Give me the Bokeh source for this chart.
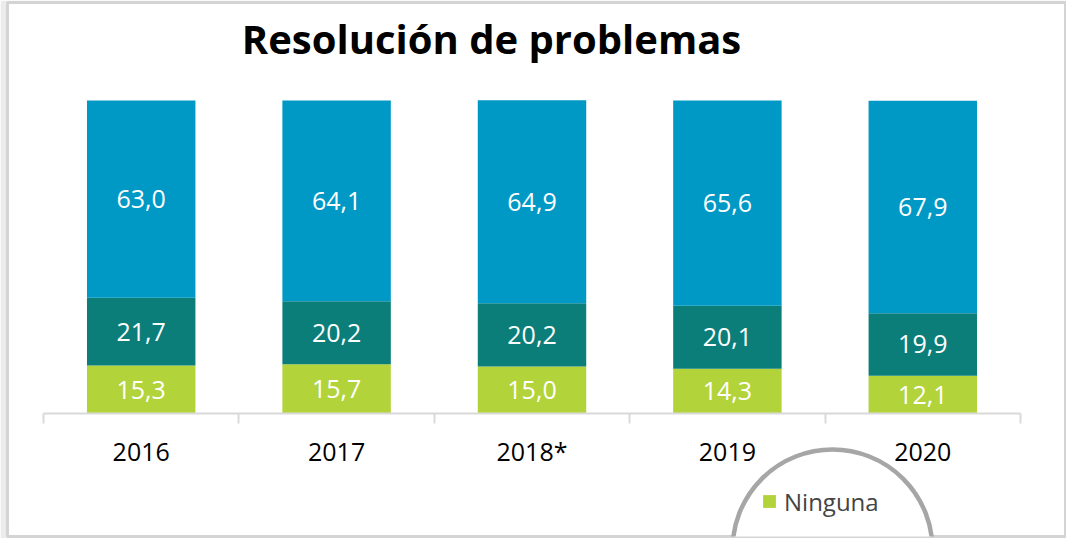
from bokeh.plotting import figure
from bokeh.models import (ColumnDataSource, LinearAxis, FixedTicker, Range1d, Legend,
                          LegendItem, Label, CustomJSTickFormatter)
from bokeh.embed import file_html
from bokeh.resources import INLINE
from bokeh.core.properties import value

# ---- data ----
years = ["2016", "2017", "2018*", "2019", "2020"]
ninguna = [15.3, 15.7, 15.0, 14.3, 12.1]
basica = [21.7, 20.2, 20.2, 20.1, 19.9]
avanzada = [63.0, 64.1, 64.9, 65.6, 67.9]
series_names = ["Ninguna", "Básica"]
title_text = "Resolución de problemas"

GREEN = "#B3D33B"
TEAL = "#0C7E7A"
BLUE = "#0099C5"
FONT = "Open Sans"

# ---- geometry (page pixels) ----
W, H = 1066, 538
FL, FT, FR, FB = 7, 2, 1, 2          # frame borders
FW, FH = W - FL - FR, H - FT - FB
PX_X = 195.4      # px per category
PX_Y = 3.13       # px per percentage point
AXIS_LEFT = 43    # page x of first category boundary
AXIS_Y = 413      # page y of the zero line

x_start = -0.5 - (AXIS_LEFT - FL) / PX_X
x_end = x_start + FW / PX_X
y_end = (AXIS_Y - FT) / PX_Y
y_start = y_end - FH / PX_Y


def dx(px):
    return x_start + (px - FL) / PX_X


def dy(py):
    return y_end - (py - FT) / PX_Y


p = figure(width=W, height=H, x_range=Range1d(x_start, x_end), y_range=Range1d(y_start, y_end),
           x_axis_type=None, y_axis_type=None, toolbar_location=None, output_backend="svg",
           title=None)
p.min_border_left, p.min_border_top, p.min_border_right, p.min_border_bottom = FL, FT, FR, FB
p.outline_line_color = "#d4d4d4"
p.outline_line_width = 3
p.background_fill_color = "white"
p.border_fill_color = "#ececec"

xs = list(range(len(years)))
src = ColumnDataSource(dict(x=xs, ninguna=ninguna, basica=basica, avanzada=avanzada))
rs = p.vbar_stack(["ninguna", "basica", "avanzada"], x="x", width=0.555,
                  fill_color=[GREEN, TEAL, BLUE], line_color=None, source=src)

# segment labels
lx, ly, lt = [], [], []
for i in xs:
    base = 0.0
    for arr in (ninguna, basica, avanzada):
        lx.append(i)
        ly.append(base + arr[i] / 2)
        lt.append(f"{arr[i]:.1f}".replace(".", ","))
        base += arr[i]
p.text(x=lx, y=ly, text=lt, text_color="white", text_font=value(FONT),
       text_font_size="25px", text_align="center", text_baseline="middle")

# axis with ticks at category boundaries
tick_axis = LinearAxis(ticker=FixedTicker(ticks=[i - 0.5 for i in range(len(years) + 1)]),
                       fixed_location=0, bounds=(-0.5, len(years) - 0.5),
                       formatter=CustomJSTickFormatter(code="return ''"),
                       axis_line_color="#d9d9d9", axis_line_width=2,
                       major_tick_line_color="#d9d9d9", major_tick_line_width=2,
                       major_tick_in=0, major_tick_out=10, minor_tick_line_color=None)
p.add_layout(tick_axis, "below")

label_axis = LinearAxis(ticker=FixedTicker(ticks=xs), fixed_location=0,
                        major_label_overrides={i: y for i, y in enumerate(years)},
                        axis_line_color=None, major_tick_line_color=None,
                        major_tick_in=0, major_tick_out=0, minor_tick_line_color=None,
                        major_label_standoff=20, major_label_text_font=FONT,
                        major_label_text_font_size="25px", major_label_text_color="black")
p.add_layout(label_axis, "below")

# decorative circle behind the legend
p.scatter(x=[dx(832)], y=[dy(549)], size=200, marker="circle", fill_color="white",
          line_color="#a6a6a6", line_width=4.5)

legend = Legend(items=[LegendItem(label=series_names[0], renderers=[rs[0]]),
                       LegendItem(label=series_names[1], renderers=[rs[1]])],
                location=(761 - FL, -25), orientation="vertical", glyph_width=16, glyph_height=16,
                label_text_font=FONT, label_text_font_size="24px", label_height=34,
                spacing=9, padding=0, margin=0, border_line_color=None,
                background_fill_alpha=0, label_standoff=7)
p.add_layout(legend)

title = Label(x=dx(491), y=H - FB - 38, x_units="data", y_units="screen", text=title_text,
              text_font=FONT, text_font_style="bold", text_font_size="40px",
              text_align="center", text_baseline="alphabetic", text_color="black")
p.add_layout(title)

open("out.html", "w").write(file_html(p, INLINE))
